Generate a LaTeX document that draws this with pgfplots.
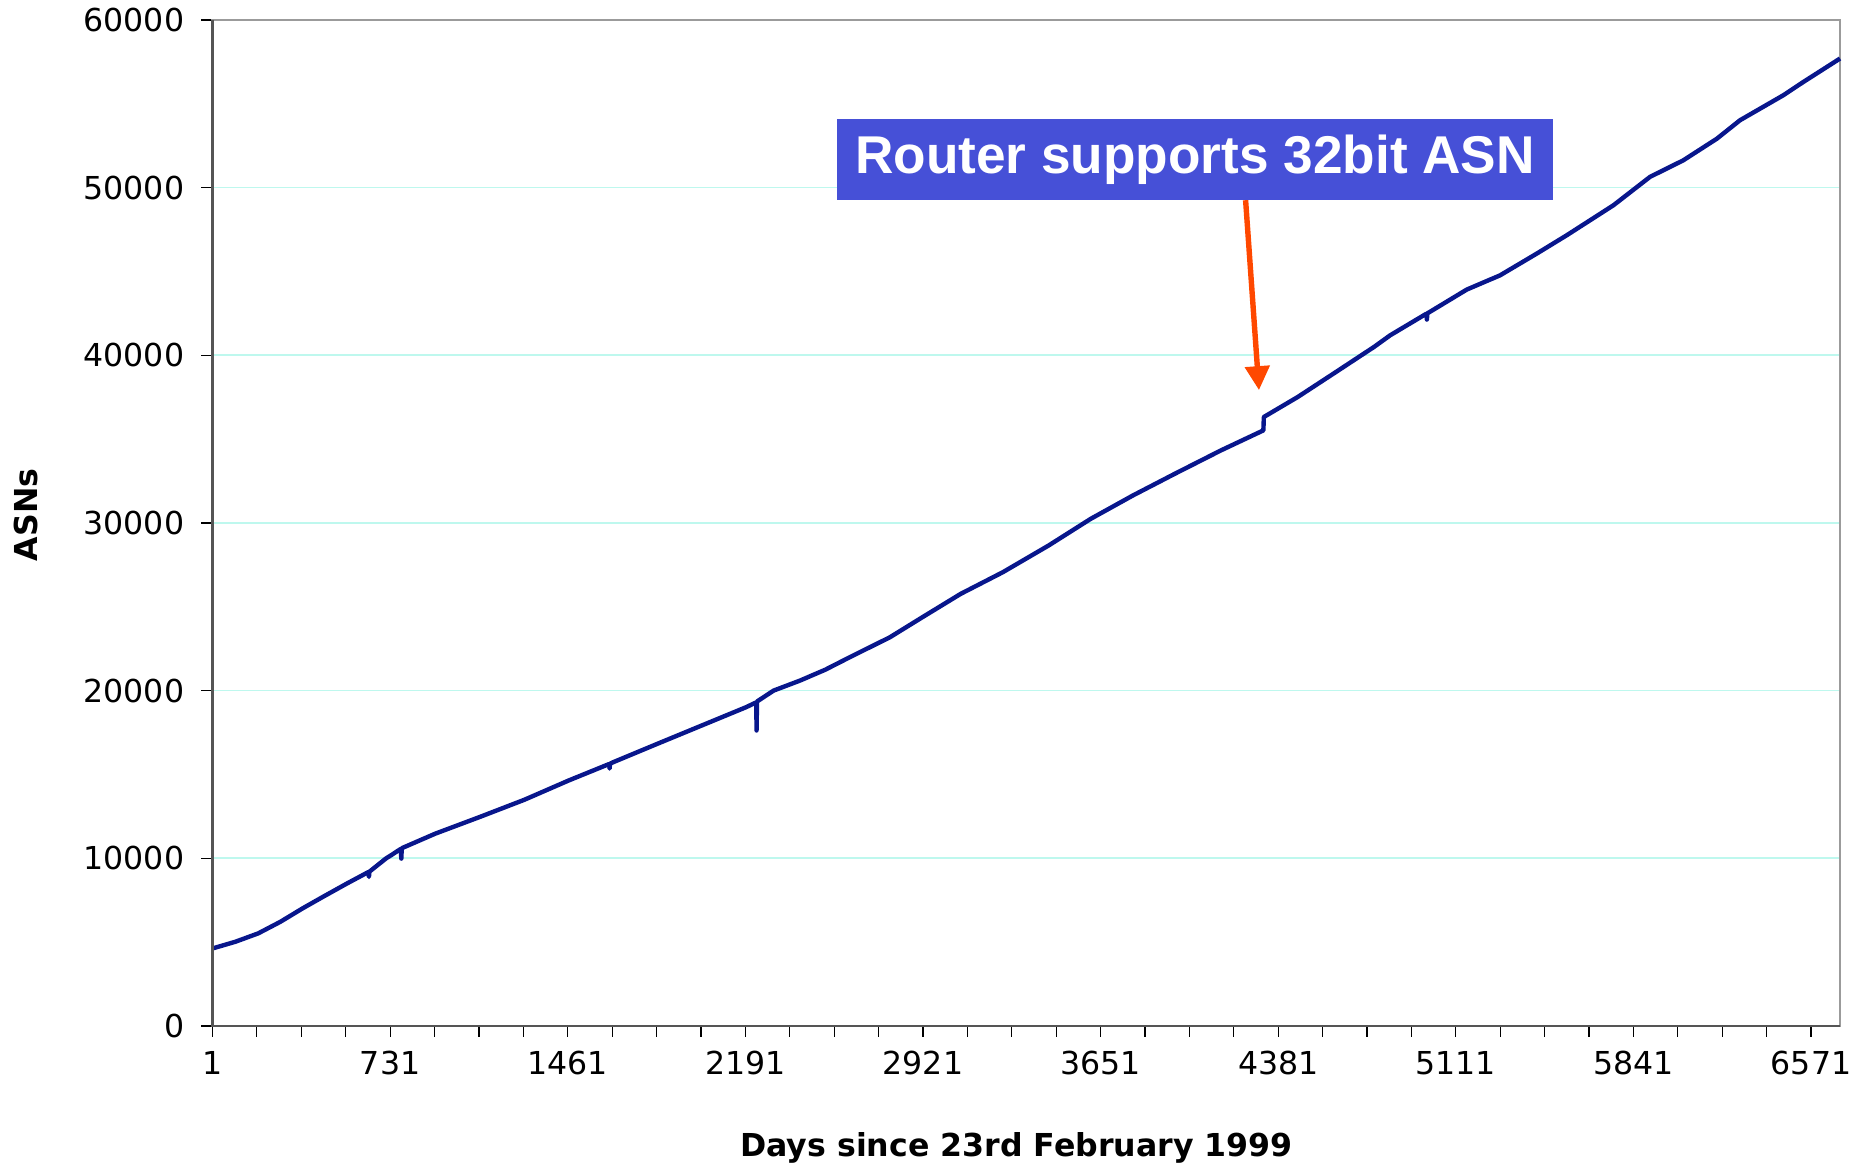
\documentclass[border=0pt]{standalone}
\usepackage{pgfplots}
\pgfplotsset{compat=1.18}
\usepackage{fontspec}
\setmainfont{DejaVu Sans}
\newfontfamily\arialfont{Liberation Sans}
\usetikzlibrary{arrows.meta}
\definecolor{linecol}{RGB}{8,22,140}
\definecolor{gridcol}{RGB}{190,248,238}
\definecolor{boxcol}{RGB}{70,80,215}
\definecolor{arrowcol}{RGB}{255,72,0}
\definecolor{framecol}{RGB}{155,155,155}
\definecolor{axiscol}{RGB}{85,85,85}
\begin{document}
\begin{tikzpicture}
\begin{axis}[
  scale only axis,
  width=406.9pt, height=251.5pt,
  xmin=1, xmax=6690,
  ymin=0, ymax=60000,
  xtick={1,731,1461,2191,2921,3651,4381,5111,5841,6571},
  minor xtick={183.5,366,548.5,913.5,1096,1278.5,1643.5,1826,2008.5,2373.5,2556,2738.5,3103.5,3286,3468.5,3833.5,4016,4198.5,4563.5,4746,4928.5,5293.5,5476,5658.5,6023.5,6206,6388.5},
  ytick={0,10000,20000,30000,40000,50000,60000},
  scaled y ticks=false,
  tick align=outside,
  major tick length=2.75pt,
  minor tick length=2.75pt,
  tick style={black, line width=0.3pt},
  xtick pos=bottom, ytick pos=left,
  ymajorgrids,
  grid style={gridcol, line width=0.4pt},
  axis line style={framecol, line width=0.6pt},
  /pgf/number format/assume math mode=true,
  /pgf/number format/1000 sep={},
  ticklabel style={font=\fontsize{7.9}{9.5}\selectfont},
  yticklabel style={xshift=-0.8pt},
  xlabel={Days since 23rd February 1999},
  ylabel={ASNs},
  xlabel style={font=\fontsize{7.9}{9.5}\selectfont\bfseries, at={(axis description cs:0.494,-0.1213)}, anchor=center},
  ylabel style={font=\fontsize{7.9}{9.5}\selectfont\bfseries, at={(axis description cs:-0.1145,0.508)}, anchor=center},
  clip=false,
]
\addplot[linecol, line width=1.1pt, line join=round] coordinates {
(1,4620) (95,5020) (189,5520) (280,6210) (370,7000) (460,7740) (553,8490)
(642,9180) (644,8890) (646,9200) (715,10000) (735,10180) (775,10560)
(777,9980) (779,10600) (917,11470) (1099,12460) (1283,13490) (1465,14640)
(1631,15620) (1633,15350) (1635,15640) (1648,15730) (1830,16830) (2012,17920)
(2194,19010) (2236,19300) (2237,17620) (2239,19350) (2307,20000) (2416,20600)
(2520,21250) (2620,21990) (2785,23180) (2919,24380) (3076,25770) (3249,27060)
(3438,28660) (3611,30250) (3784,31640) (3957,32940) (4146,34330) (4320,35520)
(4322,36320) (4461,37510) (4618,39000) (4775,40500) (4841,41190) (4990,42480)
(4992,42130) (4994,42500) (5156,43920) (5293,44770) (5443,46060) (5567,47160)
(5759,48950) (5909,50640) (6046,51630) (6184,52920) (6279,54020) (6457,55510)
(6539,56300) (6690,57700)
};
\coordinate (ll) at (rel axis cs:0,0);
\coordinate (ur) at (rel axis cs:1,1);
\draw[axiscol, line width=0.7pt] (rel axis cs:0,1) -- (rel axis cs:0,0) -- (rel axis cs:1,0);
\draw[arrowcol, line width=1.35pt, -{Triangle[length=6pt,width=6pt]}] (axis cs:4247,49250) -- (axis cs:4302,37920);
\node[fill=boxcol, text=white, minimum width=179pt, minimum height=20.4pt, inner sep=0pt,
  font=\arialfont\bfseries\fontsize{13.3}{16}\selectfont] at (axis cs:4039,51675) {Router supports 32bit ASN};
\end{axis}
\pgfresetboundingbox
\path ([shift={(-53.125pt,-35.75pt)}]ll) rectangle ([shift={(8pt,5pt)}]ur);
\end{tikzpicture}
\end{document}
